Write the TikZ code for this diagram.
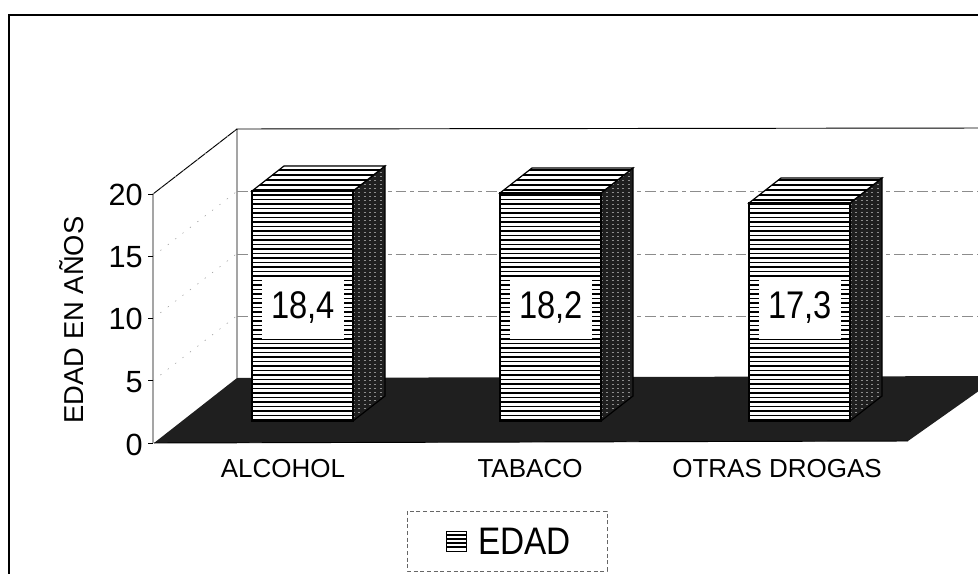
\documentclass[tikz,border=0pt]{standalone}
\usepackage{fontspec}
\setmainfont{Liberation Sans}
\tikzset{
  grid line/.style={black!45, line width=0.45pt, dash pattern=on 8pt off 3pt on 3pt off 3pt},
  side grid/.style={black!40, line width=0.4pt, dash pattern=on 1pt off 6pt},
  valbox/.style={fill=white, inner sep=0pt, minimum width=62pt, minimum height=46pt, font=\fontsize{24.5}{28}\selectfont},
  ticklab/.style={anchor=east, inner sep=0pt, font=\fontsize{23}{26}\selectfont},
  catlab/.style={inner sep=0pt, font=\fontsize{19.5}{22}\selectfont},
  hatchline/.style={line width=1.05pt},
}
\newcommand\mybar[4]{%
  % side face
  \fill[black!88] (#1+101,#2) -- (#1+133,#2-25) -- (#1+133,396) -- (#1+101,421) -- cycle;
  \begin{scope}
    \clip (#1+101,#2) -- (#1+133,#2-25) -- (#1+133,396) -- (#1+101,421) -- cycle;
    \foreach \yy in {120,124,...,430} \draw[black!45, line width=0.45pt, dash pattern=on 1.5pt off 2.5pt] (#1+101,\yy) -- (#1+133,\yy);
  \end{scope}
  \draw[line width=0.9pt] (#1+101,#2) -- (#1+133,#2-25) -- (#1+133,396) -- (#1+101,421);
  % top face
  \fill[white] (#1,#2) -- (#1+32,#2-25) -- (#1+133,#2-25) -- (#1+101,#2) -- cycle;
  \begin{scope}
    \clip (#1,#2) -- (#1+32,#2-25) -- (#1+133,#2-25) -- (#1+101,#2) -- cycle;
    \foreach \yy in {120,125,...,230} \draw[hatchline] (#1,\yy) -- (#1+140,\yy);
  \end{scope}
  \draw[line width=0.9pt] (#1,#2) -- (#1+32,#2-25) -- (#1+133,#2-25) -- (#1+101,#2) -- cycle;
  % front face
  \fill[white] (#1,#2) rectangle (#1+101,421);
  \begin{scope}
    \clip (#1,#2) rectangle (#1+101,421);
    \foreach \yy in {150,154.5,...,425} \draw[hatchline] (#1,\yy) -- (#1+101,\yy);
  \end{scope}
  \draw[line width=0.9pt] (#1,#2) rectangle (#1+101,421);
  % value label
  \node[valbox] (#4) at (#1+51,308) {\scalebox{1}[1.18]{#3}};
}
\begin{document}
\begin{tikzpicture}[x=0.75pt,y=-0.75pt]
\useasboundingbox (0,0) rectangle (978,574);
\begin{scope}
\clip (0,0) rectangle (978,574);
% outer frame
\draw[line width=1.5pt] (9,580) -- (9,15) -- (990,15);
% back wall
\draw[line width=0.7pt] (237,378) -- (237,129) -- (990,128);
\foreach \yy in {316,254,191} \draw[grid line] (237,\yy) -- (990,\yy);
% side wall
\draw[line width=0.7pt] (153,443) -- (153,194) -- (237,129);
\foreach \k in {1,2,3,4} {
  \draw[side grid] (153,443-62.25*\k) -- (237,378-62.25*\k);
  \draw[line width=0.5pt] (148,443-62.25*\k) -- (153,443-62.25*\k);
}
\draw[line width=0.5pt] (148,443) -- (153,443);
% floor
\fill[black!88] (154,443) -- (237,378) -- (1000,376) -- (908,441) -- cycle;
\draw[line width=0.7pt] (154,443) -- (908,441);
% bars
\mybar{252}{191}{18,4}{va}
\mybar{500}{193}{18,2}{vb}
\mybar{749}{203}{17,3}{vc}
\end{scope}
% axis labels
\node[ticklab] (t20) at (143,195) {20};
\node[ticklab] (t15) at (143,257) {15};
\node[ticklab] (t10) at (143,319) {10};
\node[ticklab] (t5)  at (143,382) {5};
\node[ticklab] (t0)  at (143,445) {0};
\node[rotate=90, inner sep=0pt, font=\fontsize{20.5}{24}\selectfont] (ytitle) at (72,320) {EDAD EN AÑOS};
% categories
\node[catlab] (c1) at (283,469) {ALCOHOL};
\node[catlab] (c2) at (530,469) {TABACO};
\node[catlab] (c3) at (777,469) {OTRAS DROGAS};
% legend
\draw[black!60, line width=0.5pt, dash pattern=on 3pt off 2pt] (407,511) rectangle (607,571);
\node[draw, line width=0.8pt, minimum width=15pt, minimum height=15pt, inner sep=0pt] (lm) at (456.5,541.5) {};
\foreach \yy in {535,539,543,547} \draw[line width=0.8pt] (446.5,\yy) -- (466.5,\yy);
\node[anchor=west, inner sep=0pt, font=\fontsize{25}{28}\selectfont] (lt) at (478,541) {\scalebox{1}[1.15]{EDAD}};
\end{tikzpicture}
\end{document}
